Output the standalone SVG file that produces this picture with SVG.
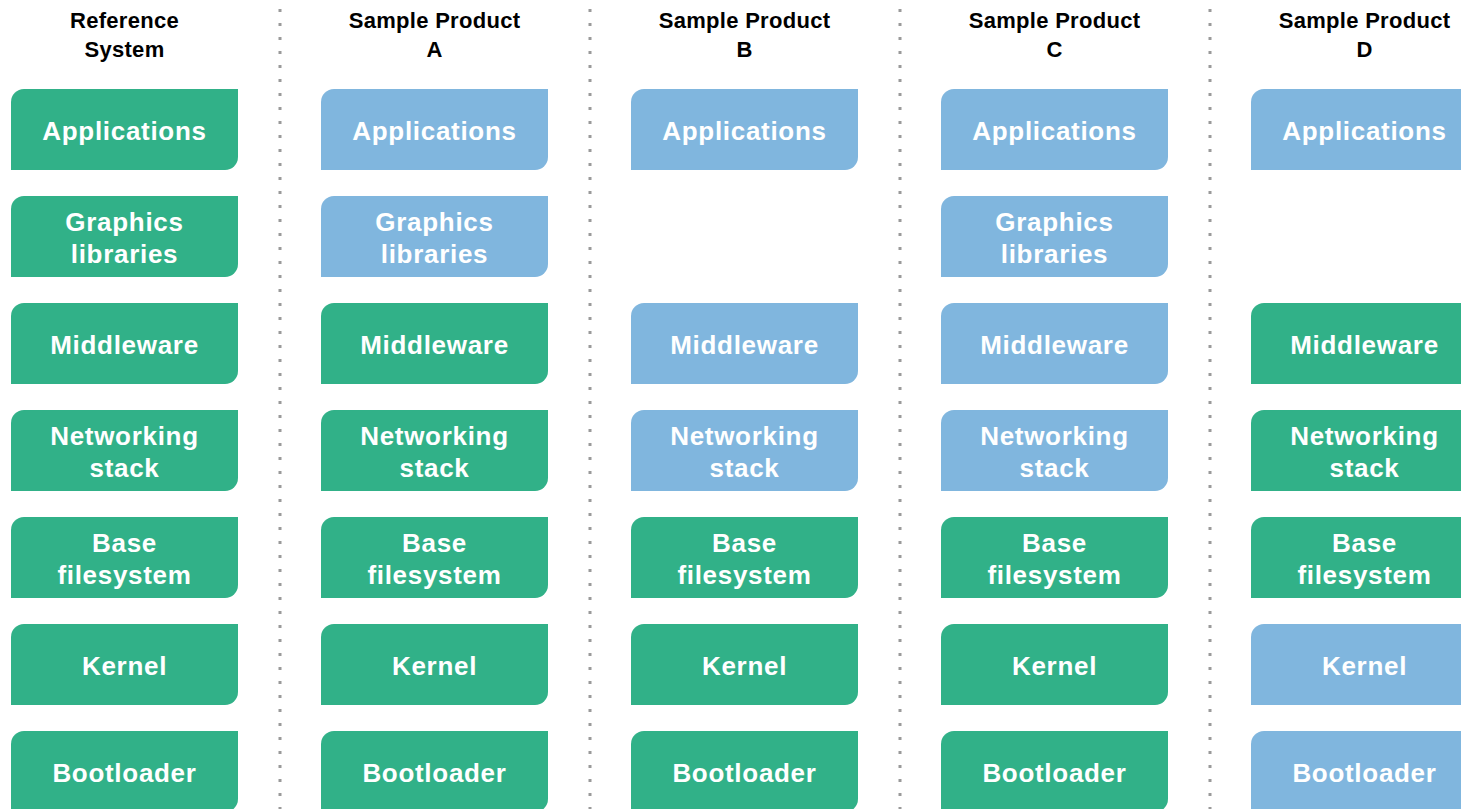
<svg xmlns="http://www.w3.org/2000/svg" width="1461" height="809" viewBox="0 0 1461 809">
  <defs>
    <style>
      .head { font-family: "Liberation Sans", Arial, sans-serif; font-weight: bold; font-size: 22px; letter-spacing: 0.3px; fill: #000; text-anchor: middle; }
      .lbl { font-family: "Liberation Sans", Arial, sans-serif; font-weight: bold; font-size: 26px; letter-spacing: 0.7px; fill: #fff; text-anchor: middle; }
      .green { fill: #31b188; }
      .blue { fill: #80b6de; }
      .sep { stroke: #9a9a9a; stroke-width: 3; stroke-dasharray: 3 11; fill: none; }
    </style>
    <!-- layer block: rounded top-left and bottom-right corners, 227 x 81 -->
    <path id="blk" d="M0,13 A13,13 0 0 1 13,0 H227 V68 A13,13 0 0 1 214,81 H0 Z"/>
  </defs>
  <rect width="1461" height="809" fill="#fff"/>

  <!-- column separators -->
  <g id="separators">
    <line class="sep" x1="280" y1="9" x2="280" y2="809"/>
    <line class="sep" x1="590" y1="9" x2="590" y2="809"/>
    <line class="sep" x1="900" y1="9" x2="900" y2="809"/>
    <line class="sep" x1="1210" y1="9" x2="1210" y2="809"/>
  </g>
  <g id="connectors"/>

  <!-- column headings -->
  <g id="headings">
    <text class="head" x="124.5" y="28">Reference</text>
    <text class="head" x="124.5" y="57">System</text>
    <text class="head" x="434.5" y="28">Sample Product</text>
    <text class="head" x="434.5" y="57">A</text>
    <text class="head" x="744.5" y="28">Sample Product</text>
    <text class="head" x="744.5" y="57">B</text>
    <text class="head" x="1054.5" y="28">Sample Product</text>
    <text class="head" x="1054.5" y="57">C</text>
    <text class="head" x="1364.5" y="28">Sample Product</text>
    <text class="head" x="1364.5" y="57">D</text>
  </g>

  <!-- Reference System -->
  <g id="ref-apps" transform="translate(11,89)"><use href="#blk" class="green"/><text class="lbl" x="113.5" y="51">Applications</text></g>
  <g id="ref-gfx" transform="translate(11,196)"><use href="#blk" class="green"/><text class="lbl" x="113.5" y="35">Graphics</text><text class="lbl" x="113.5" y="67">libraries</text></g>
  <g id="ref-mw" transform="translate(11,303)"><use href="#blk" class="green"/><text class="lbl" x="113.5" y="51">Middleware</text></g>
  <g id="ref-net" transform="translate(11,410)"><use href="#blk" class="green"/><text class="lbl" x="113.5" y="35">Networking</text><text class="lbl" x="113.5" y="67">stack</text></g>
  <g id="ref-fs" transform="translate(11,517)"><use href="#blk" class="green"/><text class="lbl" x="113.5" y="35">Base</text><text class="lbl" x="113.5" y="67">filesystem</text></g>
  <g id="ref-kernel" transform="translate(11,624)"><use href="#blk" class="green"/><text class="lbl" x="113.5" y="51">Kernel</text></g>
  <g id="ref-boot" transform="translate(11,731)"><use href="#blk" class="green"/><text class="lbl" x="113.5" y="51">Bootloader</text></g>

  <!-- Sample Product A -->
  <g id="a-apps" transform="translate(321,89)"><use href="#blk" class="blue"/><text class="lbl" x="113.5" y="51">Applications</text></g>
  <g id="a-gfx" transform="translate(321,196)"><use href="#blk" class="blue"/><text class="lbl" x="113.5" y="35">Graphics</text><text class="lbl" x="113.5" y="67">libraries</text></g>
  <g id="a-mw" transform="translate(321,303)"><use href="#blk" class="green"/><text class="lbl" x="113.5" y="51">Middleware</text></g>
  <g id="a-net" transform="translate(321,410)"><use href="#blk" class="green"/><text class="lbl" x="113.5" y="35">Networking</text><text class="lbl" x="113.5" y="67">stack</text></g>
  <g id="a-fs" transform="translate(321,517)"><use href="#blk" class="green"/><text class="lbl" x="113.5" y="35">Base</text><text class="lbl" x="113.5" y="67">filesystem</text></g>
  <g id="a-kernel" transform="translate(321,624)"><use href="#blk" class="green"/><text class="lbl" x="113.5" y="51">Kernel</text></g>
  <g id="a-boot" transform="translate(321,731)"><use href="#blk" class="green"/><text class="lbl" x="113.5" y="51">Bootloader</text></g>

  <!-- Sample Product B -->
  <g id="b-apps" transform="translate(631,89)"><use href="#blk" class="blue"/><text class="lbl" x="113.5" y="51">Applications</text></g>
  <g id="b-mw" transform="translate(631,303)"><use href="#blk" class="blue"/><text class="lbl" x="113.5" y="51">Middleware</text></g>
  <g id="b-net" transform="translate(631,410)"><use href="#blk" class="blue"/><text class="lbl" x="113.5" y="35">Networking</text><text class="lbl" x="113.5" y="67">stack</text></g>
  <g id="b-fs" transform="translate(631,517)"><use href="#blk" class="green"/><text class="lbl" x="113.5" y="35">Base</text><text class="lbl" x="113.5" y="67">filesystem</text></g>
  <g id="b-kernel" transform="translate(631,624)"><use href="#blk" class="green"/><text class="lbl" x="113.5" y="51">Kernel</text></g>
  <g id="b-boot" transform="translate(631,731)"><use href="#blk" class="green"/><text class="lbl" x="113.5" y="51">Bootloader</text></g>

  <!-- Sample Product C -->
  <g id="c-apps" transform="translate(941,89)"><use href="#blk" class="blue"/><text class="lbl" x="113.5" y="51">Applications</text></g>
  <g id="c-gfx" transform="translate(941,196)"><use href="#blk" class="blue"/><text class="lbl" x="113.5" y="35">Graphics</text><text class="lbl" x="113.5" y="67">libraries</text></g>
  <g id="c-mw" transform="translate(941,303)"><use href="#blk" class="blue"/><text class="lbl" x="113.5" y="51">Middleware</text></g>
  <g id="c-net" transform="translate(941,410)"><use href="#blk" class="blue"/><text class="lbl" x="113.5" y="35">Networking</text><text class="lbl" x="113.5" y="67">stack</text></g>
  <g id="c-fs" transform="translate(941,517)"><use href="#blk" class="green"/><text class="lbl" x="113.5" y="35">Base</text><text class="lbl" x="113.5" y="67">filesystem</text></g>
  <g id="c-kernel" transform="translate(941,624)"><use href="#blk" class="green"/><text class="lbl" x="113.5" y="51">Kernel</text></g>
  <g id="c-boot" transform="translate(941,731)"><use href="#blk" class="green"/><text class="lbl" x="113.5" y="51">Bootloader</text></g>

  <!-- Sample Product D -->
  <g id="d-apps" transform="translate(1251,89)"><use href="#blk" class="blue"/><text class="lbl" x="113.5" y="51">Applications</text></g>
  <g id="d-mw" transform="translate(1251,303)"><use href="#blk" class="green"/><text class="lbl" x="113.5" y="51">Middleware</text></g>
  <g id="d-net" transform="translate(1251,410)"><use href="#blk" class="green"/><text class="lbl" x="113.5" y="35">Networking</text><text class="lbl" x="113.5" y="67">stack</text></g>
  <g id="d-fs" transform="translate(1251,517)"><use href="#blk" class="green"/><text class="lbl" x="113.5" y="35">Base</text><text class="lbl" x="113.5" y="67">filesystem</text></g>
  <g id="d-kernel" transform="translate(1251,624)"><use href="#blk" class="blue"/><text class="lbl" x="113.5" y="51">Kernel</text></g>
  <g id="d-boot" transform="translate(1251,731)"><use href="#blk" class="blue"/><text class="lbl" x="113.5" y="51">Bootloader</text></g>
</svg>
